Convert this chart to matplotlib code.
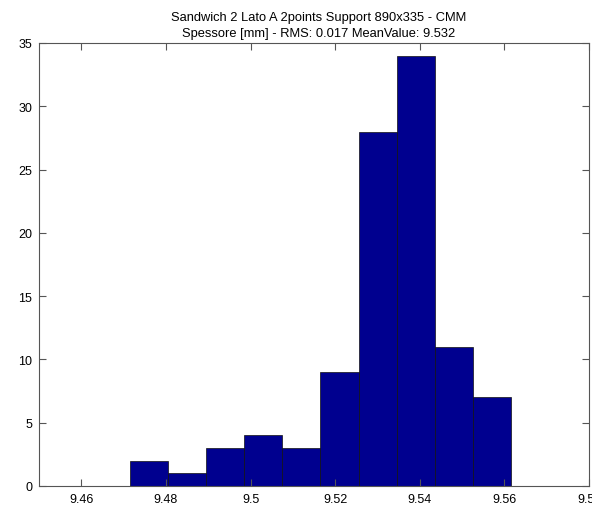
import numpy as np
import matplotlib
matplotlib.use('Agg')
import matplotlib.pyplot as plt

# histogram (10 bins, MATLAB hist style)
data_min = 9.4714
data_max = 9.5616
counts = [2, 1, 3, 4, 3, 9, 28, 34, 11, 7]
xticks = [9.46, 9.48, 9.5, 9.52, 9.54, 9.56, 9.58]
yticks = [0, 5, 10, 15, 20, 25, 30, 35]

title = ('Sandwich 2 Lato A 2points Support 890x335 - CMM\n'
         'Spessore [mm] - RMS: 0.017 MeanValue: 9.532')

plt.rcParams['font.family'] = ['Liberation Sans', 'DejaVu Sans']

fig = plt.figure(figsize=(5.92, 5.06), dpi=100)
ax = fig.add_axes([39 / 592, 1 - 487 / 506, 550 / 592, 443 / 506])

edges = np.linspace(data_min, data_max, len(counts) + 1)
width = edges[1] - edges[0]
ax.bar(edges[:-1], counts, width=width, align='edge',
       color='#00008f', edgecolor='#111111', linewidth=0.5)

ax.set_xlim(9.45, 9.58)
ax.set_ylim(0, 35)
ax.set_xticks(xticks)
ax.set_xticklabels(['%g' % t for t in xticks])
ax.set_yticks(yticks)
ax.tick_params(direction='in', length=5, width=0.8, color='#555555',
               labelsize=9, top=True, right=True, pad=5)
for s in ax.spines.values():
    s.set_color('#555555')
    s.set_linewidth(0.8)

ax.set_title(title, fontsize=9.3, linespacing=1.4, pad=5, x=0.5085)

fig.savefig('out.png', dpi=100)
